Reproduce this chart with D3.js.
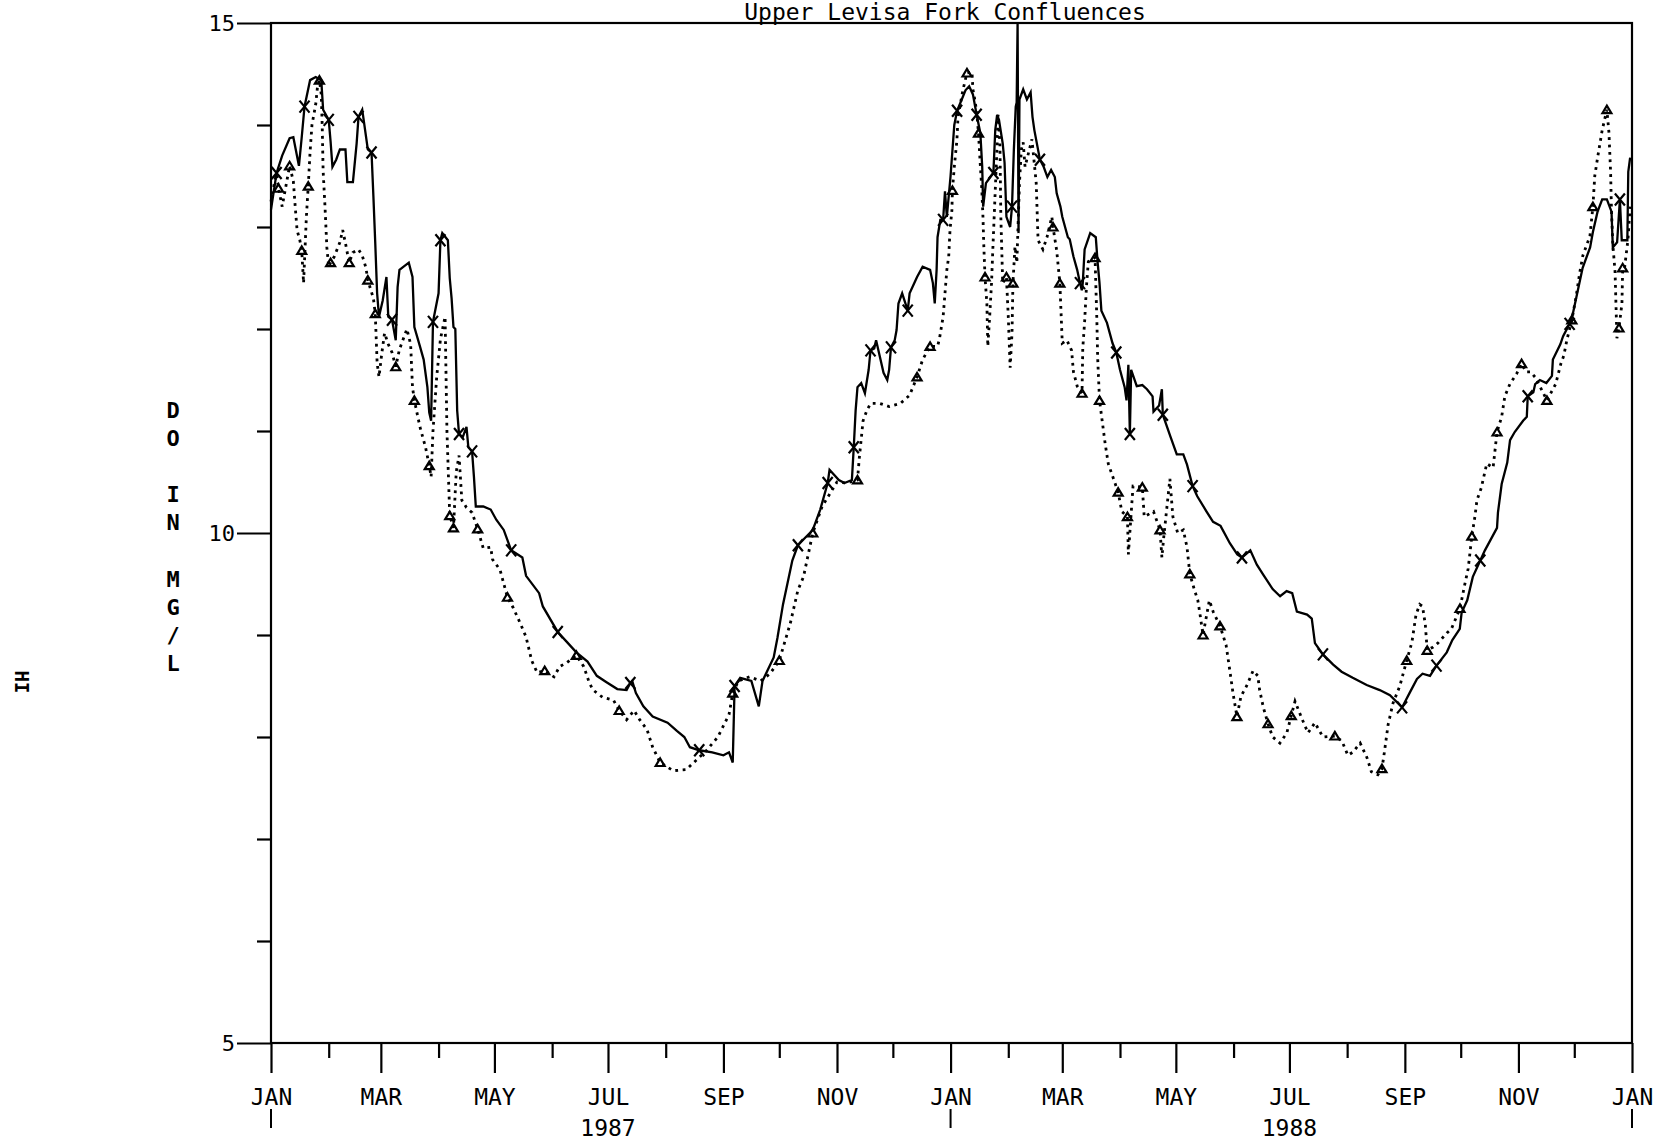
<!DOCTYPE html>
<html><head><meta charset="utf-8">
<script src="https://cdn.jsdelivr.net/npm/d3@7"></script>
<style>
html,body{margin:0;padding:0;background:#fff;}
svg{display:block;}
text{font-family:"DejaVu Sans Mono","Liberation Mono",monospace;fill:#000;}
</style>
</head><body>
<svg id="chart" width="1659" height="1146"></svg>
<script>
// ---- data: day offsets from 1 Jan 1987, dissolved oxygen (mg/L) ----
const solidDay = [0,3,6,10,12,15,16.5,18,21,24,27,28,31,32,33,35,37,40,41,44,46,47,49,52,54,55,56,57,58,60,62,63,65,67,68,69,74,76,77,80,82,84,85,86,87,90,91,92,95,96,97,98,99,100,101,103,105,106,108,109,110,114,118,121,125,129,135,137,144,146,154,159,164,170,175,180,186,191,193,194,196,200,205,213,218,222,225,230,237,243,246,248,249,252,258,262,264,270,272,275,280,283,291,295,299,300,305,308,312,313,314,315,317,319,321,322,324,325,327,329,331,332,333,335,336,337,339,342,343,347,350,354,355.5,356.5,357.5,358,359.5,361,362,363,365,367,368.5,371,373,375,377,379,381,382,382.5,384,386,388,389,390,391,393,394,395,397,398,399,400,400.5,401,401.5,402,404,406,408,409,410,413,415,417,419,421,422,424,425,428,429,431,433,434.5,435.5,436,437,440,443,444,445,446,449,452,454,456,458.5,459.5,460.5,461.3,462,465,468,470.5,473.5,474,477,478.5,479,483,486.5,490,492,495,497.5,502.5,506,510,515,519,521.5,526,529.5,533,538,542,545.5,548.5,551,556.5,559,560.7,565,570.5,575,581,588.5,595.5,601,607.5,611.5,615.5,618.5,622.5,626,631.5,634.5,638.5,639.5,642.5,645.5,649.5,652,658.5,659,661,664,665.5,668,672.5,674.5,675,678,679,681.5,685,688,688.5,692.5,694,697.5,699,704.5,708.5,710,712.5,715,717.5,720,720.7,723,724.5,725.5,728.5,729,730];
const solidDO = [13.17,13.53,13.70,13.87,13.88,13.60,13.88,14.18,14.44,14.47,14.44,14.15,14.05,13.84,13.59,13.66,13.76,13.76,13.44,13.44,13.82,14.08,14.15,13.76,13.73,13.30,12.84,12.35,12.12,12.28,12.51,12.12,12.09,11.89,12.41,12.58,12.65,12.51,12.02,11.83,11.70,11.43,11.18,11.10,12.07,12.35,12.87,12.94,12.87,12.50,12.30,12.02,12.00,11.20,10.97,10.94,11.04,10.84,10.80,10.55,10.26,10.26,10.23,10.13,10.03,9.83,9.76,9.58,9.41,9.28,9.03,8.93,8.83,8.74,8.60,8.54,8.47,8.46,8.53,8.55,8.43,8.30,8.20,8.14,8.06,8.00,7.90,7.87,7.85,7.82,7.85,7.75,8.50,8.58,8.55,8.30,8.55,8.78,8.97,9.30,9.73,9.88,10.03,10.23,10.49,10.62,10.52,10.49,10.52,10.84,11.20,11.43,11.47,11.37,11.60,11.79,11.81,11.89,11.73,11.57,11.50,11.60,11.82,11.89,11.99,12.25,12.35,12.18,12.35,12.51,12.61,12.58,12.45,12.25,12.58,12.90,13.07,13.07,13.35,13.10,13.50,14.00,14.14,14.25,14.34,14.38,14.30,14.10,13.92,13.59,13.20,13.43,13.48,13.53,13.95,14.10,14.05,13.82,13.63,13.10,13.00,13.20,13.76,14.18,14.22,15.00,12.94,14.25,14.35,14.25,14.32,14.08,13.95,13.66,13.59,13.49,13.56,13.49,13.33,13.20,13.10,12.90,12.88,12.71,12.58,12.45,12.38,12.45,12.78,12.94,12.90,12.65,12.45,12.18,12.06,11.86,11.77,11.60,11.43,11.30,11.65,10.97,11.60,11.44,11.45,11.41,11.34,11.19,11.25,11.41,11.16,10.95,10.77,10.77,10.67,10.46,10.36,10.21,10.11,10.07,9.90,9.79,9.76,9.83,9.69,9.59,9.45,9.38,9.43,9.41,9.23,9.20,9.16,8.92,8.81,8.71,8.64,8.58,8.51,8.46,8.41,8.29,8.43,8.57,8.62,8.60,8.70,8.83,8.95,9.06,9.22,9.34,9.57,9.73,9.83,10.05,10.20,10.48,10.69,10.91,10.99,11.10,11.14,11.34,11.38,11.46,11.50,11.47,11.54,11.70,11.85,11.93,12.05,12.13,12.60,12.80,12.95,13.15,13.27,13.27,13.15,12.80,12.85,13.27,12.87,12.87,13.54,13.68];

const dottedDay = [0,2,3,4,6,8,10,12,13,14,15.5,16.5,17.5,19,20,21,22,24,25,26,27,27.5,28,29,30,31,32,34,37,38.5,40,42,44,47,49,51,52,55,56,57,58,59.5,61,63,65,67,69,73,75,76,77,80,83,85,86,87,89,91,93.5,94.5,96,98,99.5,101,102.5,105,108,111,114,118,119,123,127,130,134,137,140,143,147,152,155,159,164,168,171,173,178,184,187,191,195,198,202,205,209,216,223,230,234,240,246,248,251,257,263,268,273,279,283,286,291,296,304,309,315,316,318,320,322,327,332,338,343,347,350,354,358,359,361,363,364,364.7,365.7,366,367,368.4,369,371.6,373.8,376.5,377,378,379,380,380.8,381.8,382.4,382.8,383.5,384.5,385,386,387,387.7,388.8,389.9,390.5,391.5,392,393,395,396,397,398,398.5,399.6,400.6,402,403,404,405,408.7,411,412,414.6,416.8,419.4,420,422,423.7,425,427.5,430,431,433,435.6,436,437,438,439,442.6,443.6,444,445,448,449.7,455,457,460,460.5,463,468,469,474,477.5,478.5,479.5,482.8,484.4,487,490,492,493.5,496,497.8,499,500.6,504,506,509.7,513,515,516.7,518.8,521,524,527.5,530,531,533,535.5,538,541.9,545.6,548,550,553.7,557,560.7,565,571.4,575.2,578.4,581,585,588.6,591,594.5,596.7,598,600,602.6,606.3,610,612.8,615,617,618.5,620,621,624,626.7,631.6,634,638.6,641,643,645,646.7,647.7,650,653,656.4,658.5,661,662.7,665.4,669,671.7,674,676.6,679.3,685.3,690,692.8,694.4,696,698.7,701,703,704.6,706.8,708.4,710,711,712.7,715,717.5,718.6,719.5,720,720.7,721.9,722.9,724,725.6,726,727,728.8,730];
const dottedDO = [13.25,13.45,13.52,13.38,13.20,13.40,13.60,13.45,13.20,12.97,12.87,12.77,12.45,13.10,13.40,13.74,14.00,14.20,14.38,14.44,14.30,14.00,13.55,13.20,12.80,12.61,12.65,12.71,12.85,12.97,12.84,12.65,12.75,12.78,12.72,12.60,12.48,12.30,12.15,11.67,11.53,11.76,11.96,11.85,11.77,11.63,11.80,12.00,11.85,11.43,11.30,11.04,10.84,10.66,10.55,11.00,11.53,11.90,12.12,11.00,10.17,10.05,10.60,10.76,10.32,10.25,10.20,10.04,9.85,9.86,9.74,9.64,9.37,9.27,9.11,8.98,8.75,8.63,8.65,8.59,8.69,8.73,8.80,8.69,8.53,8.46,8.39,8.36,8.26,8.17,8.26,8.17,8.07,7.90,7.75,7.67,7.68,7.80,7.87,8.00,8.22,8.43,8.55,8.59,8.55,8.62,8.75,9.12,9.44,9.57,10.00,10.26,10.50,10.49,10.52,10.74,11.10,11.20,11.27,11.27,11.24,11.27,11.35,11.53,11.70,11.83,11.83,11.90,12.12,12.58,12.71,12.97,13.16,13.36,13.59,13.85,14.08,14.34,14.51,14.52,14.35,14.25,14.13,13.92,13.66,13.36,13.10,12.84,12.51,12.25,11.83,12.12,12.45,12.78,13.27,13.76,14.10,13.82,13.10,12.45,12.51,12.12,11.62,11.96,12.45,12.81,12.65,13.43,13.76,13.83,13.59,13.86,13.43,12.87,12.78,12.90,13.10,13.00,12.77,12.45,11.86,11.89,11.79,11.58,11.44,11.37,11.81,12.07,12.42,12.66,12.70,12.07,11.72,11.30,10.88,10.68,10.40,10.21,10.16,9.79,10.46,10.45,10.16,10.21,10.03,9.76,9.96,10.53,10.16,10.00,10.03,9.86,9.60,9.44,9.34,9.20,9.00,9.34,9.23,9.09,8.90,8.65,8.43,8.20,8.40,8.50,8.65,8.60,8.46,8.29,8.13,8.00,7.94,8.04,8.21,8.35,8.18,8.04,8.14,8.00,8.01,7.96,7.82,7.85,7.94,7.80,7.66,7.63,7.69,7.85,8.12,8.33,8.50,8.75,8.93,9.20,9.30,9.28,9.10,8.85,8.88,8.92,9.02,9.06,9.26,9.48,9.65,9.97,10.17,10.32,10.44,10.68,10.64,10.99,11.14,11.34,11.46,11.56,11.66,11.58,11.58,11.52,11.30,11.46,11.66,11.74,11.89,12.09,12.32,12.56,12.72,12.83,12.91,13.20,13.50,13.70,13.95,14.15,13.93,13.54,13.15,12.83,12.56,11.91,12.01,12.25,12.60,12.60,12.87,13.20];

// days on which the plotter drew a symbol on each curve
const solidMarkDays = [4,17.6,29.6,47,54,66,87,91.5,100.6,108,129,153.5,193,232.5,250,283,299,313,322,333,342,361.5,368.4,378.6,388,398.5,414,434,453.7,461,481,496,521,566,608,627,650,675,698,725];
const dottedMarkDays = [4.5,11,16.5,20,25.6,33,41.5,52,56,67,77,85,95.5,98,111,126,146,162.6,187.6,209,248,270.6,291.6,314,347,354,366,375,380,384,395,398.5,421,424,435,442,446,454,459,467,478,493.5,500,509,519,535,549,571,596,611,621,639,645,658,672,685,698,710,718,724,726];

const yMajorTicks = [5, 10, 15];
const yMinorTicks = [6, 7, 8, 9, 11, 12, 13, 14];
const monthNames = ["JAN","FEB","MAR","APR","MAY","JUN","JUL","AUG","SEP","OCT","NOV","DEC"];
const yearLabels = ["1987", "1988"];
const titleText = "Upper Levisa Fork Confluences";
const yLabelLines = ["D","O","","I","N","","M","G","/","L"];
const sideText = "HI";

// ---- drawing ----
const svg = d3.select("#chart");
svg.append("rect").attr("width",1659).attr("height",1146).attr("fill","#fff");

const DAY = 86400000;
const t0 = Date.UTC(1987,0,1);
const toDate = d => new Date(t0 + d*DAY);

const x = d3.scaleUtc().domain([new Date(Date.UTC(1987,0,1)), new Date(Date.UTC(1989,0,1))]).range([271,1632]);
const y = d3.scaleLinear().domain([5,15]).range([1043,23]);

const majorMonths = d3.utcMonth.range(new Date(Date.UTC(1987,0,1)), new Date(Date.UTC(1989,0,2)), 2);
const minorMonths = d3.utcMonth.range(new Date(Date.UTC(1987,1,1)), new Date(Date.UTC(1989,0,1)), 2);
const janMonths = d3.utcYear.range(new Date(Date.UTC(1987,0,1)), new Date(Date.UTC(1989,0,2)));

// bottom axis
const gxMinor = svg.append("g").attr("transform","translate(0,1043)")
  .call(d3.axisBottom(x).tickValues(minorMonths).tickSize(15).tickFormat(""));
const gx = svg.append("g").attr("transform","translate(0,1043)")
  .call(d3.axisBottom(x).tickValues(majorMonths).tickSize(30).tickPadding(16)
    .tickFormat(d => monthNames[d.getUTCMonth()]));
[gx, gxMinor].forEach(g => {
  g.select(".domain").remove();
  g.selectAll(".tick line").attr("stroke","#000").attr("stroke-width",2.2);
});
gx.selectAll(".tick text").attr("font-size",23).attr("font-family","DejaVu Sans Mono, monospace").attr("fill","#000");

// small ticks below January labels
svg.append("g").selectAll("line").data(janMonths).join("line")
  .attr("x1",d=>x(d)).attr("x2",d=>x(d)).attr("y1",1109).attr("y2",1128)
  .attr("stroke","#000").attr("stroke-width",2);

// year labels centred on July
svg.append("g").selectAll("text").data(yearLabels).join("text")
  .attr("x",d=>x(new Date(Date.UTC(+d,6,1)))).attr("y",1136)
  .attr("text-anchor","middle").attr("font-size",23).text(d=>d);

// left axis
const gyMinor = svg.append("g").attr("transform","translate(271,0)")
  .call(d3.axisLeft(y).tickValues(yMinorTicks).tickSize(14).tickFormat(""));
const gy = svg.append("g").attr("transform","translate(271,0)")
  .call(d3.axisLeft(y).tickValues(yMajorTicks).tickSize(34).tickPadding(2).tickFormat(d3.format("d")));
[gy, gyMinor].forEach(g => {
  g.select(".domain").remove();
  g.selectAll(".tick line").attr("stroke","#000").attr("stroke-width",2.2);
});
gy.selectAll(".tick text").attr("font-size",22).attr("font-family","DejaVu Sans Mono, monospace").attr("fill","#000");

// frame
svg.append("rect").attr("x",x.range()[0]).attr("y",y.range()[1])
  .attr("width",x.range()[1]-x.range()[0]).attr("height",y.range()[0]-y.range()[1])
  .attr("fill","none").attr("stroke","#000").attr("stroke-width",2.2);

// title
svg.append("text").attr("x",945).attr("y",20).attr("text-anchor","middle")
  .attr("font-size",23).text(titleText);

// vertical y label
const yl = svg.append("text").attr("font-size",22).attr("font-weight","bold").attr("text-anchor","middle");
yLabelLines.forEach((c,i) => {
  yl.append("tspan").attr("x",173).attr("y",418 + i*28.1).text(c);
});

// side mark
svg.append("text").attr("transform","translate(15,682) rotate(90)")
  .attr("text-anchor","middle").attr("font-size",19).attr("font-weight","bold").text(sideText);

// series
const solidIdx = d3.range(solidDay.length);
const dottedIdx = d3.range(dottedDay.length);
const solidLine = d3.line().x(i=>x(toDate(solidDay[i]))).y(i=>y(solidDO[i]));
const dottedLine = d3.line().x(i=>x(toDate(dottedDay[i]))).y(i=>y(dottedDO[i]));

svg.append("path").attr("d",dottedLine(dottedIdx)).attr("fill","none")
  .attr("stroke","#000").attr("stroke-width",2.8).attr("stroke-dasharray","2.8,4.6");
svg.append("path").attr("d",solidLine(solidIdx)).attr("fill","none")
  .attr("stroke","#000").attr("stroke-width",2.3).attr("stroke-linejoin","miter");

// markers on nearest data points
const nearest = (arr, d) => d3.minIndex(arr, v => Math.abs(v - d));
const xm = svg.append("g").attr("stroke","#000").attr("stroke-width",2.2).attr("fill","none");
solidMarkDays.forEach(md => {
  const i = nearest(solidDay, md);
  const cx = x(toDate(solidDay[i])), cy = y(solidDO[i]);
  xm.append("path").attr("d",`M${cx-5},${cy-6}L${cx+5},${cy+6}M${cx-5},${cy+6}L${cx+5},${cy-6}`);
});
const tm = svg.append("g").attr("stroke","#000").attr("stroke-width",2.2).attr("fill","none");
dottedMarkDays.forEach(md => {
  const i = nearest(dottedDay, md);
  const cx = x(toDate(dottedDay[i])), cy = y(dottedDO[i]);
  tm.append("path").attr("d",`M${cx-4.5},${cy+3.5}L${cx},${cy-4}L${cx+4.5},${cy+3.5}Z`);
});
</script>
</body></html>
